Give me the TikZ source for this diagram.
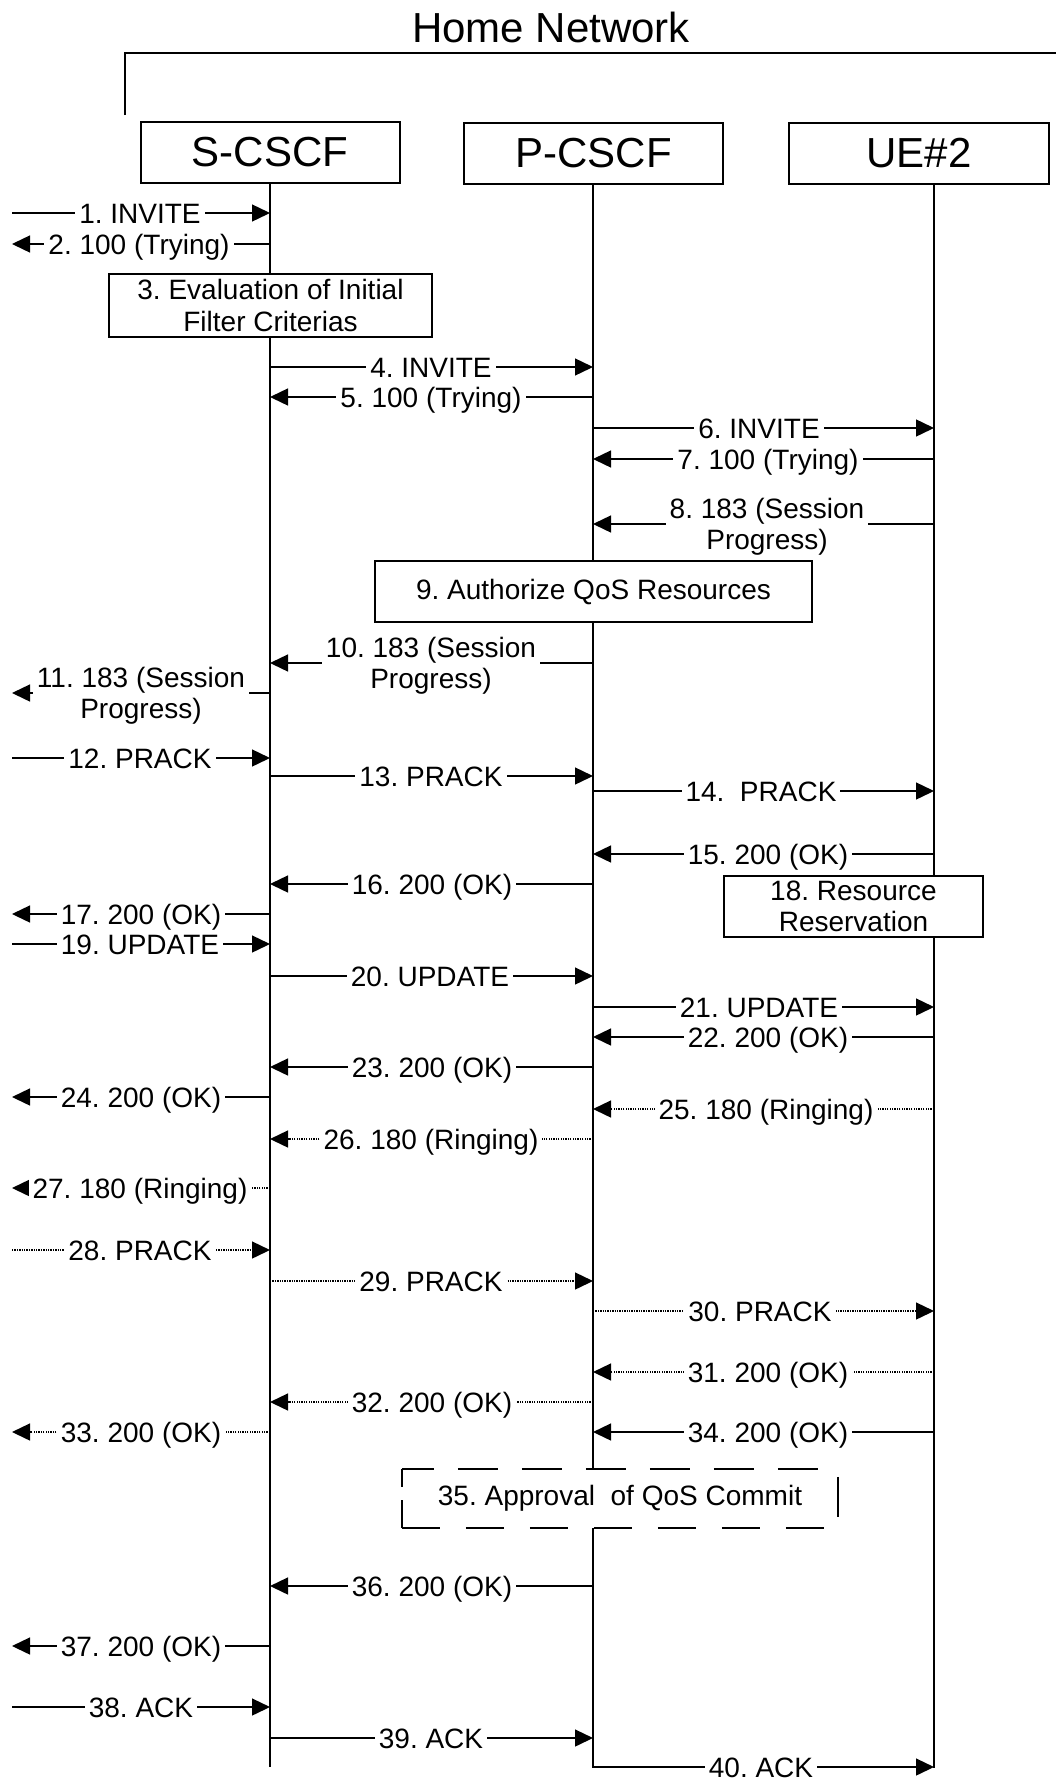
\documentclass[tikz,border=0pt]{standalone}
\usepackage{fontspec}
\setmainfont{Liberation Sans}
\usetikzlibrary{arrows.meta}
\frenchspacing
\newcommand\sqm[8]{%
  \coordinate (m#1a) at (#3 |- 0,#2);
  \coordinate (m#1b) at (#4 |- 0,#2);
  \draw[#5] (m#1a) -- (m#1b);
  \node[#7] (m#1) at (#6,#2) {#8};
}
\begin{document}
\frenchspacing
\begin{tikzpicture}[x=1pt,y=-1pt,
  ent/.style={draw,line width=2pt,fill=white,minimum width=259pt,minimum height=61pt,inner sep=0pt,font=\fontsize{42}{48}\selectfont},
  act/.style={draw,line width=2pt,fill=white,inner sep=0pt,align=center,font=\fontsize{28}{31.5}\selectfont},
  life/.style={line width=1.8pt},
  msg/.style={line width=1.4pt,-{Triangle[length=18pt,width=17pt]}},
  dot/.style={msg,dash pattern=on 1.3pt off 1.1pt},
  lbl/.style={fill=white,inner xsep=4pt,inner ysep=0pt,text height=20pt,text depth=0pt,font=\fontsize{28}{31.5}\selectfont},
  lbltwo/.style={fill=white,inner xsep=4pt,inner ysep=0pt,align=center,yshift=-2.6pt,font=\fontsize{28}{31.5}\selectfont},
]
\useasboundingbox (0,0) rectangle (1056,1780);
% title and bracket
\node[inner sep=0pt,text height=30pt,text depth=0pt,font=\fontsize{42}{48}\selectfont] (title) at (551,27) {Home Network};
\coordinate (brkA) at (125,115);
\coordinate (brkB) at (125,53);
\coordinate (brkC) at (1056,53);
\draw[line width=2pt] (brkA) -- (brkB) -- (brkC);
% entities
\node[ent] (S) at (270,152.5) {S-CSCF};
\node[ent] (P) at (593.5,153.5) {P-CSCF};
\node[ent,minimum width=260pt] (U) at (919,153.5) {UE\#2};
\coordinate (Sl) at (270,183);
\coordinate (Pl) at (593,184);
\coordinate (Ul) at (934,184);
\coordinate (El) at (12,0);
\coordinate (Sb) at (270,1767);
\coordinate (Pb) at (593,1768);
\coordinate (Ub) at (934,1768);
\draw[life] (Sl) -- (Sb);
\draw[life] (Pl) -- (Pb);
\draw[life] (Ul) -- (Ub);
% action boxes
\node[act,minimum width=323pt,minimum height=63pt] (ev) at (270.5,305.5) {3. Evaluation of Initial\\Filter Criterias};
\node[act,minimum width=437pt,minimum height=61pt] (qos) at (593.5,591.5) {9. Authorize QoS Resources};
\node[act,minimum width=259pt,minimum height=61pt] (rr) at (853.5,906.5) {18. Resource\\Reservation};
\node[fill=white,minimum width=436pt,minimum height=59pt,inner sep=0pt,font=\fontsize{28}{31.5}\selectfont] (qc) at (620,1498.5) {35. Approval\ \ of QoS Commit};
\draw[line width=2pt,dash pattern=on 40pt off 24pt,dash phase=8pt] (qc.north west) -- (qc.north east);
\draw[line width=2pt,dash pattern=on 38pt off 26pt] (qc.south west) -- (qc.south east);
\draw[line width=2pt] (qc.north west) -- ++(0,18) (qc.south west) -- ++(0,-28);
\draw[line width=2pt] ([yshift=-8pt]qc.north east) -- ++(0,40);
% messages
\sqm{1}{213}{El}{Sl}{msg}{140}{lbl}{1. INVITE}
\sqm{2}{244}{Sl}{El}{msg}{139}{lbl}{2. 100 (Trying)}
\sqm{4}{367}{Sl}{Pl}{msg}{431}{lbl}{4. INVITE}
\sqm{5}{397}{Pl}{Sl}{msg}{431}{lbl}{5. 100 (Trying)}
\sqm{6}{428}{Pl}{Ul}{msg}{759}{lbl}{6. INVITE}
\sqm{7}{459}{Ul}{Pl}{msg}{768}{lbl}{7. 100 (Trying)}
\sqm{8}{524}{Ul}{Pl}{msg}{767}{lbltwo}{8. 183 (Session\\Progress)}
\sqm{10}{663}{Pl}{Sl}{msg}{431}{lbltwo}{10. 183 (Session\\Progress)}
\sqm{11}{693}{Sl}{El}{msg}{141}{lbltwo}{11. 183 (Session\\Progress)}
\sqm{12}{758}{El}{Sl}{msg}{140}{lbl}{12. PRACK}
\sqm{13}{776}{Sl}{Pl}{msg}{431}{lbl}{13. PRACK}
\sqm{14}{791}{Pl}{Ul}{msg}{761}{lbl}{14.\ \ PRACK}
\sqm{15}{854}{Ul}{Pl}{msg}{768}{lbl}{15. 200 (OK)}
\sqm{16}{884}{Pl}{Sl}{msg}{432}{lbl}{16. 200 (OK)}
\sqm{17}{914}{Sl}{El}{msg}{141}{lbl}{17. 200 (OK)}
\sqm{19}{944}{El}{Sl}{msg}{140}{lbl}{19. UPDATE}
\sqm{20}{976}{Sl}{Pl}{msg}{430}{lbl}{20. UPDATE}
\sqm{21}{1007}{Pl}{Ul}{msg}{759}{lbl}{21. UPDATE}
\sqm{22}{1037}{Ul}{Pl}{msg}{768}{lbl}{22. 200 (OK)}
\sqm{23}{1067}{Pl}{Sl}{msg}{432}{lbl}{23. 200 (OK)}
\sqm{24}{1097}{Sl}{El}{msg}{141}{lbl}{24. 200 (OK)}
\sqm{25}{1109}{Ul}{Pl}{dot}{766}{lbl}{25. 180 (Ringing)}
\sqm{26}{1139}{Pl}{Sl}{dot}{431}{lbl}{26. 180 (Ringing)}
\sqm{27}{1188}{Sl}{El}{dot}{140}{lbl}{27. 180 (Ringing)}
\sqm{28}{1250}{El}{Sl}{dot}{140}{lbl}{28. PRACK}
\sqm{29}{1281}{Sl}{Pl}{dot}{431}{lbl}{29. PRACK}
\sqm{30}{1311}{Pl}{Ul}{dot}{760}{lbl}{30. PRACK}
\sqm{31}{1372}{Ul}{Pl}{dot}{768}{lbl}{31. 200 (OK)}
\sqm{32}{1402}{Pl}{Sl}{dot}{432}{lbl}{32. 200 (OK)}
\sqm{33}{1432}{Sl}{El}{dot}{141}{lbl}{33. 200 (OK)}
\sqm{34}{1432}{Ul}{Pl}{msg}{768}{lbl}{34. 200 (OK)}
\sqm{36}{1586}{Pl}{Sl}{msg}{432}{lbl}{36. 200 (OK)}
\sqm{37}{1646}{Sl}{El}{msg}{141}{lbl}{37. 200 (OK)}
\sqm{38}{1707}{El}{Sl}{msg}{141}{lbl}{38. ACK}
\sqm{39}{1738}{Sl}{Pl}{msg}{431}{lbl}{39. ACK}
\sqm{40}{1767}{Pl}{Ul}{msg}{761}{lbl}{40. ACK}
\end{tikzpicture}
\end{document}
